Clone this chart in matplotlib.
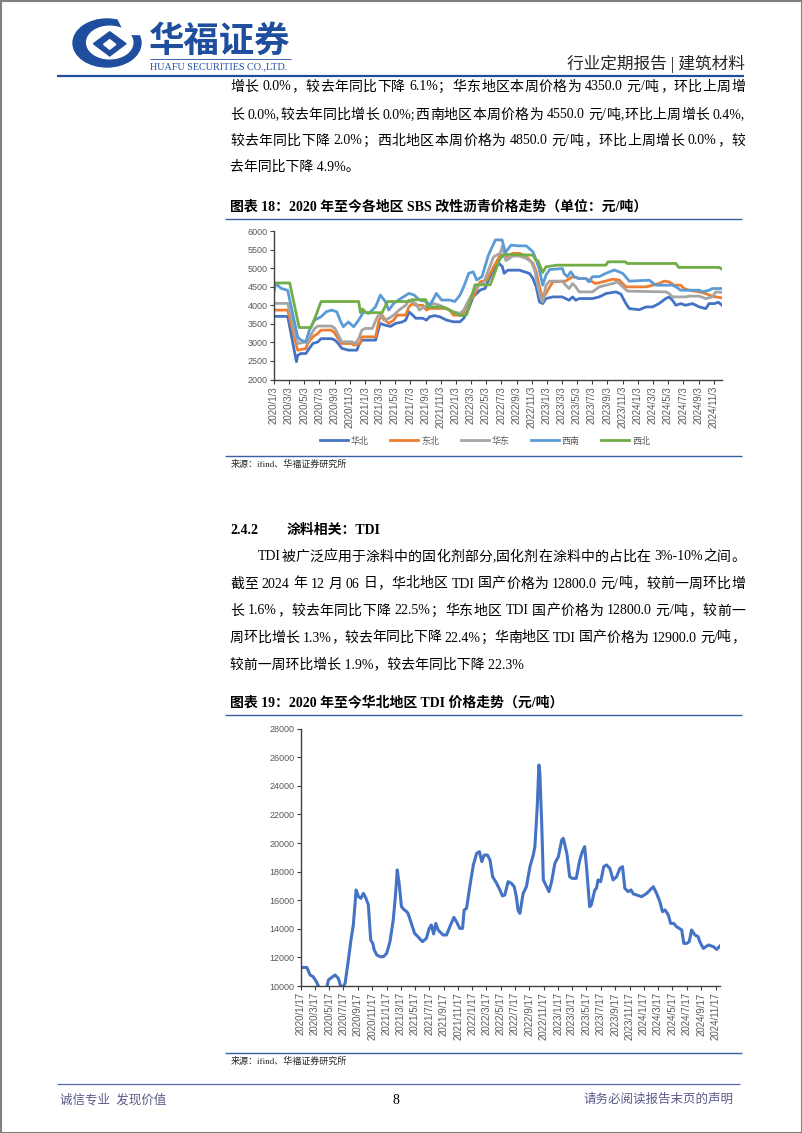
import numpy as np
import pandas as pd
import matplotlib
matplotlib.use('Agg')
import matplotlib.pyplot as plt
from matplotlib.patches import Circle, Rectangle, Polygon
from matplotlib.transforms import Affine2D

# ---- data: SBS 改性沥青价格 (元/吨) ----
sbs_labels = ['华北', '东北', '华东', '西南', '西北']
sbs_colors = ['#4472C4', '#ED7D31', '#A5A5A5', '#5B9BD5', '#70AD47']

huabei = [('2020-01-03', 3700), ('2020-02-27', 3700), ('2020-04-02', 2480), ('2020-04-07', 2650),
          ('2020-04-20', 2700), ('2020-05-10', 2700), ('2020-05-24', 2840), ('2020-06-07', 2970),
          ('2020-06-27', 3010), ('2020-07-10', 3100), ('2020-08-21', 3100), ('2020-09-04', 3060),
          ('2020-09-17', 2970), ('2020-10-01', 2840), ('2020-10-28', 2790), ('2020-12-01', 2790),
          ('2020-12-08', 2920), ('2020-12-21', 3060), ('2021-02-14', 3060), ('2021-02-28', 3420),
          ('2021-03-05', 3510), ('2021-03-25', 3460), ('2021-04-15', 3430), ('2021-05-05', 3510),
          ('2021-06-01', 3550), ('2021-06-15', 3600), ('2021-06-28', 3820), ('2021-07-12', 3740),
          ('2021-07-25', 3650), ('2021-08-22', 3650), ('2021-09-06', 3600), ('2021-09-19', 3690),
          ('2021-10-09', 3720), ('2021-10-29', 3690), ('2021-11-26', 3600), ('2021-12-23', 3555),
          ('2022-01-19', 3555), ('2022-02-03', 3650), ('2022-02-23', 3915), ('2022-03-13', 4230),
          ('2022-04-10', 4410), ('2022-04-30', 4455), ('2022-05-13', 4680), ('2022-06-03', 4950),
          ('2022-06-24', 5130), ('2022-07-08', 5040), ('2022-07-15', 4860), ('2022-07-30', 4945),
          ('2022-09-15', 4945), ('2022-10-05', 4900), ('2022-10-25', 4855), ('2022-11-08', 4720),
          ('2022-11-21', 4495), ('2022-12-04', 4090), ('2022-12-17', 4045), ('2022-12-30', 4180),
          ('2023-01-27', 4225), ('2023-03-06', 4225), ('2023-03-19', 4180), ('2023-04-02', 4135),
          ('2023-04-16', 4225), ('2023-04-29', 4135), ('2023-05-12', 4180), ('2023-07-05', 4180),
          ('2023-08-01', 4225), ('2023-08-28', 4315), ('2023-10-07', 4360), ('2023-10-27', 4300),
          ('2023-11-16', 4045), ('2023-11-30', 3910), ('2024-01-09', 3880), ('2024-02-05', 3955),
          ('2024-03-02', 3955), ('2024-03-28', 4045), ('2024-04-24', 4180), ('2024-05-08', 4225),
          ('2024-05-21', 4135), ('2024-06-04', 4000), ('2024-06-23', 4045), ('2024-07-13', 4000),
          ('2024-08-09', 4045), ('2024-09-06', 3955), ('2024-10-02', 3910), ('2024-10-15', 4045),
          ('2024-11-05', 4045), ('2024-11-22', 4080), ('2024-12-06', 4000)]

dongbei = [('2020-01-03', 3870), ('2020-02-27', 3870), ('2020-04-07', 2790), ('2020-05-10', 2835),
           ('2020-05-17', 2970), ('2020-06-07', 3150), ('2020-06-27', 3240), ('2020-07-10', 3330),
           ('2020-08-21', 3330), ('2020-09-04', 3240), ('2020-09-17', 3100), ('2020-10-01', 2970),
           ('2020-11-11', 2970), ('2020-11-18', 2925), ('2020-12-14', 2970), ('2020-12-21', 3150),
           ('2021-02-14', 3150), ('2021-02-28', 3600), ('2021-03-12', 3735), ('2021-03-25', 3600),
           ('2021-04-08', 3510), ('2021-04-28', 3600), ('2021-05-12', 3735), ('2021-06-15', 3735),
           ('2021-06-28', 3960), ('2021-07-12', 4050), ('2021-07-25', 4000), ('2021-08-22', 4000),
           ('2021-09-06', 3870), ('2021-09-19', 3915), ('2021-11-26', 3915), ('2021-12-09', 3870),
           ('2021-12-23', 3735), ('2022-01-19', 3735), ('2022-02-03', 3825), ('2022-02-16', 4000),
           ('2022-03-13', 4230), ('2022-04-10', 4630), ('2022-05-07', 4680), ('2022-06-03', 5040),
           ('2022-06-30', 5350), ('2022-07-23', 5300), ('2022-08-19', 5400), ('2022-09-15', 5400),
           ('2022-10-12', 5310), ('2022-11-08', 5126), ('2022-11-21', 4900), ('2022-12-04', 4495),
           ('2022-12-17', 4180), ('2022-12-30', 4315), ('2023-01-14', 4495), ('2023-01-27', 4630),
           ('2023-03-19', 4650), ('2023-04-16', 4770), ('2023-05-12', 4720), ('2023-06-08', 4720),
           ('2023-07-05', 4630), ('2023-07-18', 4585), ('2023-08-14', 4630), ('2023-09-24', 4700),
           ('2023-10-20', 4680), ('2023-11-03', 4585), ('2023-11-16', 4495), ('2024-02-05', 4495),
           ('2024-03-02', 4540), ('2024-03-28', 4585), ('2024-04-18', 4650), ('2024-05-08', 4630),
           ('2024-05-27', 4540), ('2024-06-23', 4540), ('2024-07-07', 4450), ('2024-07-26', 4405),
           ('2024-09-06', 4360), ('2024-10-02', 4315), ('2024-10-28', 4240), ('2024-12-06', 4200)]

huadong = [('2020-01-03', 4050), ('2020-02-27', 4050), ('2020-04-07', 2970), ('2020-05-17', 3015),
           ('2020-05-30', 3200), ('2020-06-14', 3375), ('2020-06-27', 3440), ('2020-08-21', 3440),
           ('2020-09-04', 3375), ('2020-09-17', 3200), ('2020-10-01', 3015), ('2020-11-11', 3015),
           ('2020-11-24', 2970), ('2020-12-08', 3100), ('2020-12-21', 3330), ('2021-01-04', 3375),
           ('2021-02-01', 3375), ('2021-02-21', 3690), ('2021-03-05', 3780), ('2021-03-18', 3600),
           ('2021-04-08', 3645), ('2021-04-28', 3735), ('2021-05-19', 3870), ('2021-06-15', 4000),
           ('2021-06-28', 4140), ('2021-07-12', 4100), ('2021-07-25', 4050), ('2021-08-09', 3870),
           ('2021-08-29', 3960), ('2021-09-19', 3960), ('2021-10-02', 4050), ('2021-10-29', 4000),
           ('2021-11-26', 3915), ('2021-12-23', 3825), ('2022-01-19', 3780), ('2022-02-03', 3870),
           ('2022-02-16', 4050), ('2022-03-13', 4360), ('2022-04-03', 4540), ('2022-04-23', 4580),
           ('2022-05-13', 4950), ('2022-06-03', 5306), ('2022-06-30', 5400), ('2022-07-08', 5600),
           ('2022-07-22', 5200), ('2022-08-19', 5325), ('2022-09-15', 5325), ('2022-10-12', 5260),
           ('2022-11-01', 5170), ('2022-11-15', 4945), ('2022-11-28', 4495), ('2022-12-11', 4135),
           ('2022-12-17', 4090), ('2022-12-30', 4540), ('2023-01-14', 4650), ('2023-03-06', 4650),
           ('2023-03-19', 4540), ('2023-04-02', 4450), ('2023-04-16', 4585), ('2023-04-29', 4495),
           ('2023-05-12', 4360), ('2023-07-05', 4360), ('2023-08-01', 4495), ('2023-08-28', 4540),
           ('2023-09-24', 4585), ('2023-10-14', 4630), ('2023-11-03', 4495), ('2023-11-23', 4380),
           ('2024-04-24', 4360), ('2024-05-08', 4315), ('2024-05-21', 4225), ('2024-07-13', 4225),
           ('2024-07-26', 4245), ('2024-09-06', 4245), ('2024-10-02', 4180), ('2024-10-28', 4225),
           ('2024-11-11', 4360), ('2024-12-06', 4350)]

xinan = [('2020-01-03', 4360), ('2020-01-10', 4590), ('2020-01-30', 4460), ('2020-02-27', 4400),
         ('2020-03-17', 3800), ('2020-04-07', 3150), ('2020-04-20', 3060), ('2020-05-10', 3015),
         ('2020-05-24', 3330), ('2020-06-14', 3600), ('2020-07-10', 3690), ('2020-07-31', 3825),
         ('2020-08-21', 3870), ('2020-09-11', 3825), ('2020-09-24', 3600), ('2020-10-07', 3420),
         ('2020-10-28', 3550), ('2020-11-18', 3420), ('2020-12-08', 3600), ('2020-12-28', 3825),
         ('2021-01-18', 3780), ('2021-02-14', 3960), ('2021-03-05', 4275), ('2021-03-25', 4100),
         ('2021-04-08', 3870), ('2021-04-28', 4050), ('2021-05-19', 4150), ('2021-06-28', 4320),
         ('2021-07-19', 4275), ('2021-08-09', 4140), ('2021-09-06', 4100), ('2021-09-19', 4000),
         ('2021-10-02', 4140), ('2021-10-16', 4320), ('2021-11-06', 4140), ('2021-12-09', 4140),
         ('2021-12-29', 4100), ('2022-01-19', 4275), ('2022-02-03', 4500), ('2022-02-23', 4860),
         ('2022-03-13', 4900), ('2022-03-27', 4680), ('2022-04-17', 4770), ('2022-05-13', 5350),
         ('2022-06-10', 5760), ('2022-07-07', 5760), ('2022-07-20', 5420), ('2022-08-12', 5620),
         ('2022-09-09', 5600), ('2022-10-12', 5600), ('2022-11-08', 5440), ('2022-11-21', 5216),
         ('2022-12-04', 4950), ('2022-12-17', 4540), ('2022-12-30', 4810), ('2023-01-14', 4960),
         ('2023-03-06', 4990), ('2023-03-13', 4855), ('2023-03-26', 4770), ('2023-04-09', 4900),
         ('2023-04-22', 4770), ('2023-05-12', 4720), ('2023-06-08', 4720), ('2023-06-21', 4630),
         ('2023-07-05', 4770), ('2023-08-01', 4770), ('2023-08-28', 4860), ('2023-10-01', 4950),
         ('2023-11-03', 4860), ('2023-11-30', 4650), ('2024-02-18', 4675), ('2024-03-15', 4540),
         ('2024-05-21', 4540), ('2024-06-04', 4495), ('2024-06-23', 4405), ('2024-09-06', 4405),
         ('2024-09-19', 4360), ('2024-10-15', 4405), ('2024-10-28', 4450), ('2024-12-06', 4450)]

xibei = [('2020-01-03', 4600), ('2020-03-06', 4600), ('2020-04-13', 3400), ('2020-05-30', 3400),
         ('2020-06-18', 3700), ('2020-07-10', 4100), ('2020-12-08', 4100), ('2020-12-15', 3800),
         ('2020-12-24', 3900), ('2021-01-05', 3800), ('2021-03-12', 3800), ('2021-04-03', 4100),
         ('2021-06-30', 4100), ('2021-07-10', 4150), ('2021-09-03', 4150), ('2021-09-10', 3950),
         ('2021-11-12', 3950), ('2022-01-20', 3720), ('2022-02-15', 3750), ('2022-03-20', 4550),
         ('2022-05-20', 4550), ('2022-06-30', 5270), ('2022-07-15', 5370), ('2022-11-08', 5350),
         ('2022-11-20', 5200), ('2022-11-28', 5200), ('2022-12-17', 4880), ('2022-12-30', 5035),
         ('2023-02-12', 5080), ('2023-08-28', 5080), ('2023-09-05', 5170), ('2023-11-14', 5170),
         ('2023-11-21', 5125), ('2024-06-04', 5125), ('2024-06-15', 5020), ('2024-11-25', 5020),
         ('2024-12-06', 4970)]

# ---- data: 华北地区 TDI 价格 (元/吨) ----
tdi = [('2020-01-17', 11300), ('2020-02-12', 11300), ('2020-02-26', 10770), ('2020-03-10', 10650),
       ('2020-03-24', 10300), ('2020-04-01', 10000), ('2020-04-20', 9500), ('2020-05-07', 9900),
       ('2020-05-14', 10420), ('2020-05-28', 10600), ('2020-06-11', 10770), ('2020-06-25', 10540),
       ('2020-07-05', 10000), ('2020-07-16', 9950), ('2020-07-24', 10190), ('2020-08-06', 11700),
       ('2020-08-18', 13220), ('2020-08-28', 14270), ('2020-09-09', 16720), ('2020-09-19', 16250),
       ('2020-09-29', 16130), ('2020-10-10', 16480), ('2020-10-21', 16130), ('2020-10-31', 15670),
       ('2020-11-10', 13220), ('2020-11-19', 12980), ('2020-11-25', 12520), ('2020-12-06', 12170),
       ('2020-12-20', 12050), ('2021-01-03', 12050), ('2021-01-17', 12290), ('2021-01-31', 13100),
       ('2021-02-14', 14620), ('2021-02-23', 16250), ('2021-03-03', 18120), ('2021-03-11', 17180),
       ('2021-03-21', 15550), ('2021-03-31', 15360), ('2021-04-12', 15200), ('2021-04-18', 15080),
       ('2021-05-02', 14380), ('2021-05-16', 13680), ('2021-05-30', 13450), ('2021-06-18', 13100),
       ('2021-07-05', 13330), ('2021-07-17', 14030), ('2021-07-26', 14270), ('2021-08-05', 13640),
       ('2021-08-14', 14380), ('2021-08-24', 13920), ('2021-09-14', 13570), ('2021-09-29', 13570),
       ('2021-10-16', 14270), ('2021-10-30', 14800), ('2021-11-10', 14500), ('2021-11-24', 14030),
       ('2021-12-06', 14030), ('2021-12-13', 15320), ('2021-12-23', 15430), ('2022-01-07', 17070),
       ('2022-01-21', 18470), ('2022-02-04', 19280), ('2022-02-16', 19400), ('2022-02-26', 18700),
       ('2022-03-08', 19160), ('2022-03-22', 19160), ('2022-04-02', 18810), ('2022-04-13', 17650),
       ('2022-04-30', 17180), ('2022-05-14', 16720), ('2022-05-25', 16300), ('2022-06-04', 16370),
       ('2022-06-18', 17300), ('2022-07-02', 17180), ('2022-07-14', 16950), ('2022-07-23', 16250),
       ('2022-07-30', 15320), ('2022-08-07', 15080), ('2022-08-21', 16480), ('2022-09-04', 16950),
       ('2022-09-19', 18350), ('2022-10-03', 19160), ('2022-10-10', 19750), ('2022-10-20', 22550),
       ('2022-10-27', 25460), ('2022-10-31', 24900), ('2022-11-08', 21380), ('2022-11-15', 17420),
       ('2022-11-29', 16950), ('2022-12-09', 16600), ('2022-12-20', 17300), ('2023-01-03', 18580),
       ('2023-01-18', 19050), ('2023-02-01', 20210), ('2023-02-08', 20330), ('2023-02-23', 19280),
       ('2023-03-07', 17650), ('2023-03-18', 17530), ('2023-04-04', 17530), ('2023-04-19', 18810),
       ('2023-04-30', 19400), ('2023-05-10', 19750), ('2023-05-20', 17880), ('2023-05-31', 15550),
       ('2023-06-07', 15670), ('2023-06-22', 16720), ('2023-06-29', 16830), ('2023-07-06', 17420),
       ('2023-07-17', 17300), ('2023-07-30', 18350), ('2023-08-11', 18470), ('2023-08-25', 18230),
       ('2023-09-08', 17420), ('2023-09-23', 17650), ('2023-10-07', 18230), ('2023-10-18', 18350),
       ('2023-10-28', 16830), ('2023-11-11', 16600), ('2023-11-23', 16720), ('2023-12-03', 16440),
       ('2023-12-17', 16370), ('2024-01-07', 16250), ('2024-01-29', 16480), ('2024-02-12', 16720),
       ('2024-02-26', 16950), ('2024-03-11', 16480), ('2024-03-25', 15900), ('2024-04-05', 15200),
       ('2024-04-16', 15320), ('2024-04-30', 14970), ('2024-05-10', 14380), ('2024-05-23', 14380),
       ('2024-06-04', 14150), ('2024-06-26', 13920), ('2024-07-05', 12980), ('2024-07-17', 12980),
       ('2024-07-28', 13100), ('2024-08-07', 13920), ('2024-08-21', 13570), ('2024-09-04', 13450),
       ('2024-09-11', 13100), ('2024-09-26', 12630), ('2024-10-18', 12870), ('2024-11-08', 12750),
       ('2024-11-22', 12560), ('2024-12-06', 12800)]

para1 = ['增长 0.0%，较去年同比下降 6.1%；华东地区本周价格为 4350.0 元/吨，环比上周增',
         '长 0.0%,较去年同比增长 0.0%;西南地区本周价格为 4550.0 元/吨,环比上周增长 0.4%,',
         '较去年同比下降 2.0%；西北地区本周价格为 4850.0 元/吨，环比上周增长 0.0%，较',
         '去年同比下降 4.9%。']
para2 = ['TDI被广泛应用于涂料中的固化剂部分,固化剂在涂料中的占比在 3%-10%之间。',
         '截至 2024 年 12 月 06 日，华北地区 TDI 国产价格为 12800.0 元/吨，较前一周环比增',
         '长 1.6%，较去年同比下降 22.5%；华东地区 TDI 国产价格为 12800.0 元/吨，较前一',
         '周环比增长 1.3%，较去年同比下降 22.4%；华南地区 TDI 国产价格为 12900.0 元/吨，',
         '较前一周环比增长 1.9%，较去年同比下降 22.3%']

SERIF = ['Liberation Serif', 'Noto Sans CJK SC']
BLUE = '#1F4E9E'
LINEBLUE = '#3A5DA8'

W, H = 802, 1133
fig = plt.figure(figsize=(W / 100, H / 100), dpi=100)
bg = fig.add_axes([0, 0, 1, 1])
bg.set_xlim(0, W)
bg.set_ylim(H, 0)
bg.axis('off')


def txt(x, y, s, size, **kw):
    kw.setdefault('family', SERIF)
    kw.setdefault('va', 'center')
    return bg.text(x, y, s, fontsize=size, **kw)


def hline(y, x0, x1, color=LINEBLUE, lw=1.0):
    bg.plot([x0, x1], [y, y], color=color, lw=lw, solid_capstyle='butt')


def justify(x0, x1, y, s, size, weight='normal'):
    # spread the tokens of one line between x0 and x1, like Word does
    tokens, run, space = [], '', False
    for ch in s:
        if ch == ' ':
            if run:
                tokens.append((run, space))
                run, space = '', False
            space = True
        elif ord(ch) < 128:
            run += ch
        else:
            if run:
                tokens.append((run, space))
                run, space = '', False
            tokens.append((ch, space))
            space = False
    if run:
        tokens.append((run, space))
    arts = [txt(0, y, t, size, weight=weight) for t, _ in tokens]
    r = fig.canvas.get_renderer()
    widths = [a.get_window_extent(r).width for a in arts]
    sp = size * 100 / 72 * 0.25
    nsp = sum(1 for _, f in tokens[1:] if f)
    extra = (x1 - x0 - sum(widths) - nsp * sp) / (len(tokens) - 1)
    x = x0
    for i, (a, w, (t, f)) in enumerate(zip(arts, widths, tokens)):
        if f and i > 0:
            x += sp
        a.set_x(x)
        x += w + extra


# page frame
bg.add_patch(Rectangle((0.5, 0.5), W - 1, H - 1, fill=False, ec='#808080', lw=1.5))

# header: logo, drawn in unit coordinates and stretched into place
logo_tr = Affine2D().scale(34, 24).translate(107, 43) + bg.transData
bg.add_patch(Circle((0, 0), 1, color=BLUE, transform=logo_tr))
bg.add_patch(Circle((0.08, -0.02), 0.68, color='white', transform=logo_tr))
bg.add_patch(Polygon([(0.08, -0.47), (0.56, 0.03), (0.08, 0.54), (-0.40, 0.03)],
                     closed=True, color=BLUE, transform=logo_tr))
bg.add_patch(Polygon([(0.08, -0.14), (0.26, 0.06), (0.08, 0.26), (-0.10, 0.06)],
                     closed=True, color='white', transform=logo_tr))
bg.add_patch(Polygon([(0.30, -1.1), (1.2, -1.1), (1.2, -0.38), (0.52, -0.38)],
                     closed=True, color='white', transform=logo_tr))
txt(149, 41, '华福证券', 25.5, weight='bold', color=BLUE, family=['Noto Sans CJK SC'])
hline(59, 150, 291, color=BLUE, lw=0.6)
txt(150, 67, 'HUAFU SECURITIES CO.,LTD.', 7.3, color=BLUE)
txt(745, 64, '行业定期报告 | 建筑材料', 12, ha='right', color='#262626')
hline(75.5, 57, 744, color=BLUE, lw=1.6)

# paragraph 1
for i, (s, y) in enumerate(zip(para1, [87, 115, 141, 167])):
    if i < len(para1) - 1:
        justify(230, 745, y, s, 10)
    else:
        txt(230, y, s, 10)

# chart 18 title and frame lines
txt(230, 207, '图表 18：2020 年至今各地区 SBS 改性沥青价格走势（单位：元/吨）', 10, weight='bold')
hline(218.5, 225, 742)
hline(456, 225, 742)
txt(231, 464, '来源：ifind、华福证券研究所', 6.5, color='#262626')

# section 2.4.2
txt(230, 530, '2.4.2', 10, weight='bold')
txt(287, 530, '涂料相关：TDI', 10, weight='bold')
for i, (s, y) in enumerate(zip(para2, [557, 584, 611, 638, 664])):
    if i == 0:
        justify(258, 745, y, s, 10)
    elif i < len(para2) - 1:
        justify(230, 745, y, s, 10)
    else:
        txt(230, y, s, 10)

txt(230, 703, '图表 19：2020 年至今华北地区 TDI 价格走势（元/吨）', 10, weight='bold')
hline(714.5, 225, 742)
hline(1053, 225, 742)
txt(231, 1061, '来源：ifind、华福证券研究所', 6.5, color='#262626')

# footer
hline(1084, 57, 740, color='#4F6AA8', lw=0.9)
txt(60, 1100, '诚信专业  发现价值', 9, color='#5B5B8A')
txt(396, 1100, '8', 10, ha='center', color='black')
txt(733, 1100, '请务必阅读报告末页的声明', 9, ha='right', color='#5B5B8A')


def style_axis(ax, start, stop, ylo, yhi, ystep):
    ax.set_xlim(pd.Timestamp(start), pd.Timestamp('2024-12-06'))
    ax.set_ylim(ylo, yhi)
    ax.set_yticks(np.arange(ylo, yhi + 1, ystep))
    ticks = pd.date_range(start, stop, freq=pd.DateOffset(months=2))
    ax.set_xticks(ticks)
    ax.set_xticklabels([f'{d.year}/{d.month}/{d.day}' for d in ticks], rotation=90)
    for sp in ['top', 'right']:
        ax.spines[sp].set_visible(False)
    for sp in ['left', 'bottom']:
        ax.spines[sp].set_color('#404040')
        ax.spines[sp].set_linewidth(1.0)
    ax.tick_params(direction='out', length=3, width=0.8, color='#404040',
                   labelsize=6.5, labelcolor='#595959', pad=1.5)
    ax.tick_params(axis='x', labelsize=7)
    for lb in ax.get_xticklabels() + ax.get_yticklabels():
        lb.set_family('Liberation Sans')
    ax.patch.set_alpha(0)


def px_axes(left, top, right, bottom):
    return fig.add_axes([left / W, 1 - bottom / H, (right - left) / W, (bottom - top) / H])


# chart 18: SBS
ax1 = px_axes(274, 231, 722, 379.5)
for series, lab, col in zip([huabei, dongbei, huadong, xinan, xibei], sbs_labels, sbs_colors):
    d = pd.to_datetime([p[0] for p in series])
    v = [p[1] for p in series]
    ax1.plot(d, v, color=col, lw=2.0, label=lab, solid_joinstyle='round')
style_axis(ax1, '2020-01-03', '2024-11-03', 2000, 6000, 500)
ax1.legend(loc='center', bbox_to_anchor=(485, 441), bbox_transform=bg.transData, ncol=5,
           frameon=False, handlelength=3.1, handletextpad=0.3, columnspacing=2.4,
           labelcolor='#595959', prop={'family': 'Noto Sans CJK SC', 'size': 6.5})

# chart 19: TDI
ax2 = px_axes(300.7, 728.7, 720, 986)
ax2.plot(pd.to_datetime([p[0] for p in tdi]), [p[1] for p in tdi], color='#4472C4', lw=2.2,
         solid_joinstyle='round')
style_axis(ax2, '2020-01-17', '2024-11-17', 10000, 28000, 2000)

fig.savefig('out.png', dpi=100)
